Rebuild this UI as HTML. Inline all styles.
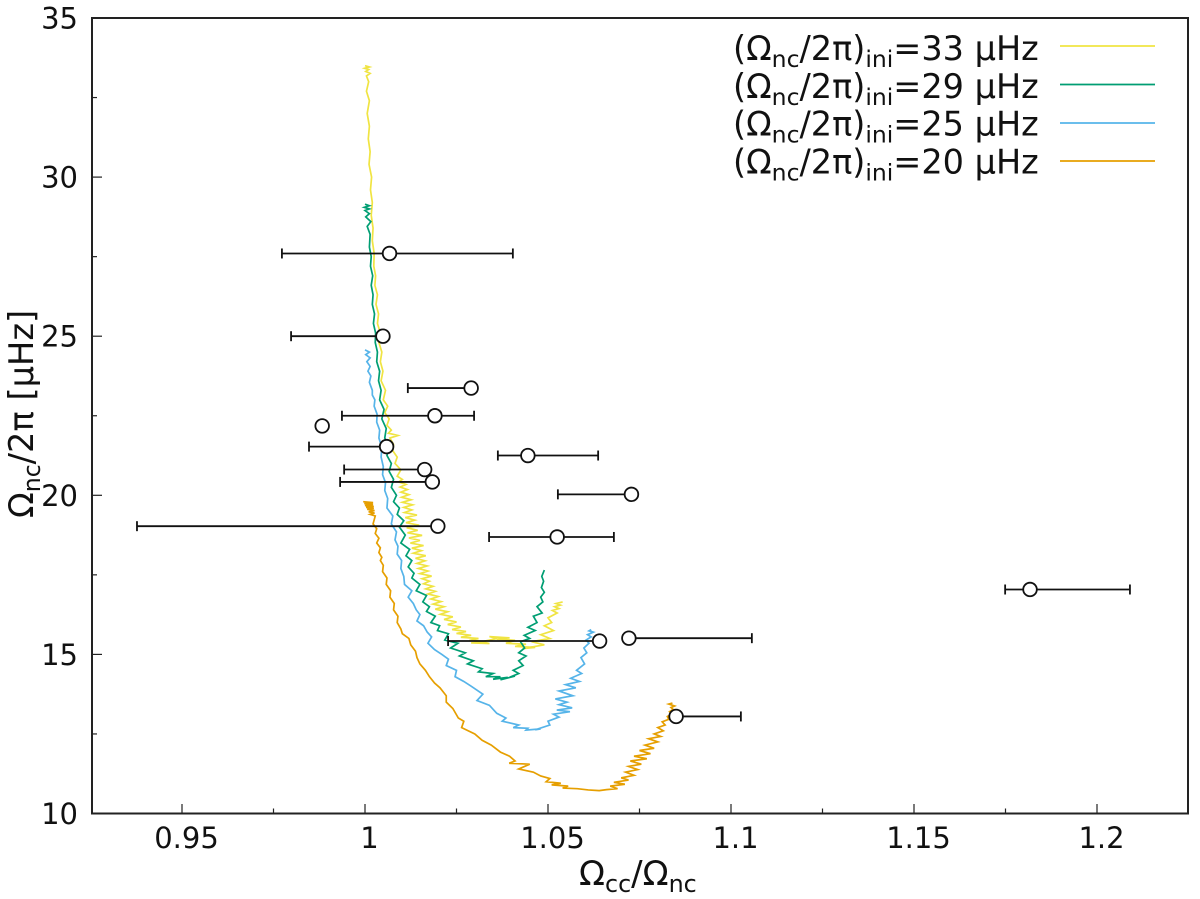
<!DOCTYPE html>
<html lang="en">
<head>
<meta charset="utf-8">
<title>Rotation chart</title>
<style>
html,body{margin:0;padding:0;background:#fff;}
svg{display:block;}
text{font-family:"DejaVu Sans","Liberation Sans",sans-serif;fill:#111;}
</style>
</head>
<body>
<svg id="chart" xmlns="http://www.w3.org/2000/svg" width="1200" height="899" viewBox="0 0 1200 899">
  <rect x="0" y="0" width="1200" height="899" fill="#fff"/>
  <g id="series"></g>
  <g id="observations"></g>
  <rect x="92" y="18" width="1096" height="795.5" fill="none" stroke="#222" stroke-width="2"/>
  <g id="axes"></g>

  <text x="579" y="885" font-size="34">Ω<tspan font-size="23.8" dy="7">cc</tspan><tspan dy="-7">/Ω</tspan><tspan font-size="23.8" dy="7">nc</tspan></text>
  <text transform="translate(33,518) rotate(-90)" font-size="33.7">Ω<tspan font-size="23.6" dy="7">nc</tspan><tspan dy="-7">/2π [μHz]</tspan></text>

  <g>
    <text x="733" y="60" font-size="33.5">(Ω<tspan font-size="23.5" dy="7">nc</tspan><tspan dy="-7">/2π)</tspan><tspan font-size="23.5" dy="7">ini</tspan><tspan dy="-7">=33 μHz</tspan></text>
    <line x1="1060" x2="1155" y1="46" y2="46" stroke="#f0e442" stroke-width="1.7"/>
    <text x="733" y="98" font-size="33.5">(Ω<tspan font-size="23.5" dy="7">nc</tspan><tspan dy="-7">/2π)</tspan><tspan font-size="23.5" dy="7">ini</tspan><tspan dy="-7">=29 μHz</tspan></text>
    <line x1="1060" x2="1155" y1="84.5" y2="84.5" stroke="#009e73" stroke-width="1.7"/>
    <text x="733" y="135.5" font-size="33.5">(Ω<tspan font-size="23.5" dy="7">nc</tspan><tspan dy="-7">/2π)</tspan><tspan font-size="23.5" dy="7">ini</tspan><tspan dy="-7">=25 μHz</tspan></text>
    <line x1="1060" x2="1155" y1="123" y2="123" stroke="#56b4e9" stroke-width="1.7"/>
    <text x="733" y="173.5" font-size="33.5">(Ω<tspan font-size="23.5" dy="7">nc</tspan><tspan dy="-7">/2π)</tspan><tspan font-size="23.5" dy="7">ini</tspan><tspan dy="-7">=20 μHz</tspan></text>
    <line x1="1060" x2="1155" y1="161" y2="161" stroke="#e69f00" stroke-width="1.7"/>
  </g>
</svg>
<script>
const xTickValues = [0.95, 1, 1.05, 1.1, 1.15, 1.2];
const xTickLabels = ["0.95", "1", "1.05", "1.1", "1.15", "1.2"];
const xMinorValues = [0.975, 1.025, 1.075, 1.125, 1.175];
const yTickValues = [10, 15, 20, 25, 30, 35];
const yTickLabels = ["10", "15", "20", "25", "30", "35"];
const yMinorValues = [12.5, 17.5, 22.5, 27.5, 32.5];

const yellowX = [
1.0000,1.0012,0.9999,1.0010,1.0002,1.0014,1.0004,1.0010,1.0004,1.0012,
1.0006,1.0012,1.0009,1.0014,1.0011,1.0018,1.0015,1.0020,1.0017,1.0022,
1.0020,1.0025,1.0024,1.0029,1.0027,1.0034,1.0030,1.0037,1.0034,1.0042,
1.0038,1.0046,1.0042,1.0049,1.0044,1.0056,1.0050,1.0062,1.0054,1.0066,
1.0060,1.0072,1.0064,1.0090,1.0068,1.0078,1.0076,1.0088,1.0082,1.0098,
1.0088,1.0102,1.0092,1.0112,1.0096,1.0116,1.0098,1.0120,1.0100,1.0126,
1.0102,1.0130,1.0106,1.0128,1.0108,1.0142,1.0110,1.0136,1.0112,1.0148,
1.0114,1.0144,1.0116,1.0156,1.0120,1.0150,1.0124,1.0160,1.0128,1.0154,
1.0132,1.0166,1.0138,1.0164,1.0142,1.0170,1.0146,1.0172,1.0150,1.0182,
1.0156,1.0176,1.0160,1.0186,1.0166,1.0192,1.0172,1.0200,1.0180,1.0208,
1.0186,1.0216,1.0192,1.0226,1.0206,1.0240,1.0216,1.0250,1.0226,1.0262,
1.0238,1.0276,1.0250,1.0290,1.0262,1.0310,1.0285,1.0330,1.0290,1.0340,
1.0320,1.0360,1.0340,1.0395,1.0360,1.0410,1.0385,1.0440,1.0410,1.0465,
1.0430,1.0490,1.0455,1.0505,1.0480,1.0515,1.0490,1.0510,1.0500,1.0525,
1.0512,1.0530,1.0518,1.0534,1.0522,1.0540];
const yellowY = [
33.5,33.46,33.42,33.38,33.32,33.26,33.18,33.0,32.7,32.4,
32.0,31.6,31.2,30.8,30.4,30.0,29.6,29.2,28.8,28.4,
28.0,27.6,27.2,26.9,26.6,26.3,26.0,25.7,25.4,25.1,
24.8,24.5,24.2,23.9,23.6,23.3,23.0,22.8,22.6,22.4,
22.2,22.05,21.95,21.88,21.8,21.6,21.4,21.2,21.0,20.8,
20.6,20.5,20.42,20.34,20.26,20.18,20.1,20.02,19.94,19.86,
19.78,19.7,19.62,19.54,19.46,19.38,19.3,19.22,19.14,19.06,
18.98,18.9,18.82,18.74,18.66,18.58,18.5,18.42,18.34,18.26,
18.18,18.1,18.02,17.94,17.86,17.78,17.7,17.62,17.54,17.46,
17.38,17.3,17.22,17.14,17.06,16.98,16.9,16.82,16.74,16.66,
16.58,16.5,16.42,16.34,16.26,16.18,16.1,16.02,15.94,15.86,
15.78,15.72,15.66,15.6,15.54,15.5,15.44,15.4,15.36,15.34,
15.4,15.5,15.56,15.52,15.48,15.44,15.35,15.32,15.25,15.22,
15.18,15.3,15.4,15.5,15.62,15.75,15.9,16.0,16.15,16.3,
16.38,16.44,16.5,16.55,16.6,16.65];

const greenX = [
1.0000,1.0012,0.9998,1.0012,1.0000,1.0012,1.0002,1.0016,1.0006,1.0014,
1.0012,1.0017,1.0015,1.0021,1.0017,1.0022,1.0020,1.0026,1.0023,1.0029,
1.0028,1.0034,1.0032,1.0040,1.0037,1.0044,1.0040,1.0052,1.0046,1.0058,
1.0054,1.0066,1.0060,1.0072,1.0066,1.0078,1.0072,1.0086,1.0078,1.0094,
1.0088,1.0106,1.0094,1.0110,1.0098,1.0122,1.0112,1.0128,1.0118,1.0134,
1.0128,1.0150,1.0140,1.0168,1.0158,1.0176,1.0168,1.0192,1.0180,1.0204,
1.0198,1.0228,1.0218,1.0254,1.0234,1.0274,1.0258,1.0296,1.0280,1.0320,
1.0310,1.0350,1.0330,1.0370,1.0350,1.0390,1.0370,1.0410,1.0395,1.0420,
1.0405,1.0432,1.0420,1.0440,1.0420,1.0436,1.0425,1.0450,1.0435,1.0465,
1.0445,1.0470,1.0460,1.0484,1.0470,1.0486,1.0480,1.0490,1.0482,1.0488,1.0483,1.0490];
const greenY = [
29.15,29.1,29.05,29.0,28.95,28.85,28.75,28.6,28.45,28.2,
27.8,27.5,27.2,26.9,26.6,26.3,26.0,25.7,25.4,25.1,
24.8,24.5,24.2,23.9,23.6,23.3,23.0,22.7,22.4,22.1,
21.8,21.5,21.25,21.0,20.75,20.5,20.25,20.0,19.8,19.6,
19.4,19.2,19.0,18.75,18.5,18.3,18.1,17.95,17.75,17.55,
17.4,17.2,17.0,16.85,16.65,16.5,16.35,16.2,16.0,15.9,
15.75,15.65,15.45,15.35,15.2,15.05,14.95,14.8,14.7,14.55,
14.45,14.4,14.3,14.3,14.22,14.28,14.2,14.32,14.28,14.4,
14.5,14.65,14.8,14.95,15.05,15.2,15.4,15.5,15.6,15.75,
15.85,16.0,16.2,16.3,16.5,16.65,16.8,16.95,17.1,17.3,17.45,17.65];

const blueX = [
1.0000,1.0012,1.0002,1.0014,1.0005,1.0014,1.0008,1.0016,1.0012,1.0020,
1.0020,1.0027,1.0025,1.0033,1.0032,1.0040,1.0038,1.0046,1.0044,1.0050,
1.0048,1.0056,1.0054,1.0062,1.0060,1.0076,1.0072,1.0086,1.0082,1.0090,
1.0088,1.0100,1.0098,1.0106,1.0108,1.0128,1.0118,1.0132,1.0140,1.0150,
1.0142,1.0160,1.0170,1.0182,1.0172,1.0190,1.0210,1.0228,1.0222,1.0250,
1.0246,1.0270,1.0290,1.0322,1.0306,1.0340,1.0360,1.0385,1.0375,1.0420,
1.0405,1.0445,1.0440,1.0480,1.0465,1.0505,1.0500,1.0530,1.0515,1.0560,
1.0524,1.0566,1.0530,1.0552,1.0520,1.0568,1.0530,1.0576,1.0548,1.0586,
1.0562,1.0592,1.0578,1.0600,1.0590,1.0606,1.0598,1.0612,1.0604,1.0618,1.0608,1.0624,1.0612,1.0618];
const blueY = [
24.57,24.5,24.42,24.32,24.2,24.05,23.9,23.75,23.55,23.3,
23.15,23.0,22.8,22.55,22.3,22.05,21.8,21.5,21.2,20.9,
20.65,20.4,20.15,19.9,19.6,19.35,19.1,18.85,18.6,18.4,
18.15,17.95,17.7,17.45,17.2,17.0,16.8,16.6,16.4,16.25,
16.05,15.9,15.7,15.55,15.35,15.15,15.0,14.85,14.65,14.5,
14.3,14.15,14.0,13.75,13.55,13.4,13.15,13.0,12.9,12.78,
12.7,12.68,12.62,12.66,12.63,12.78,12.9,13.03,13.12,13.2,
13.25,13.32,13.42,13.5,13.6,13.7,13.85,13.95,14.05,14.15,
14.25,14.4,14.5,14.7,14.9,15.05,15.2,15.35,15.45,15.55,15.62,15.7,15.74,15.78];

const orangeX = [
0.9995,1.0022,0.9998,1.0022,1.0000,1.0024,1.0003,1.0024,1.0006,1.0026,
1.0010,1.0026,1.0014,1.0028,1.0022,1.0032,1.0028,1.0038,1.0032,1.0042,
1.0038,1.0046,1.0042,1.0050,1.0048,1.0060,1.0058,1.0070,1.0068,1.0080,
1.0078,1.0090,1.0088,1.0098,1.0102,1.0120,1.0125,1.0138,1.0142,1.0150,
1.0165,1.0176,1.0190,1.0205,1.0222,1.0222,1.0240,1.0255,1.0270,1.0264,
1.0300,1.0320,1.0345,1.0370,1.0395,1.0410,1.0394,1.0450,1.0420,1.0460,
1.0480,1.0505,1.0495,1.0535,1.0510,1.0555,1.0540,1.0580,1.0610,1.0640,
1.0660,1.0690,1.0670,1.0710,1.0680,1.0720,1.0700,1.0735,1.0712,1.0745,
1.0720,1.0755,1.0725,1.0770,1.0735,1.0780,1.0750,1.0790,1.0765,1.0800,
1.0775,1.0808,1.0790,1.0815,1.0800,1.0820,1.0812,1.0830,1.0826,1.0838,
1.0832,1.0842,1.0836,1.0846,1.0830,1.0840];
const orangeY = [
19.8,19.77,19.74,19.71,19.68,19.65,19.62,19.59,19.56,19.52,
19.48,19.44,19.4,19.35,19.1,18.95,18.8,18.65,18.5,18.35,
18.2,18.05,17.95,17.8,17.6,17.4,17.2,17.0,16.8,16.6,
16.4,16.2,16.0,15.8,15.65,15.5,15.3,15.1,14.9,14.7,
14.5,14.3,14.1,13.95,13.7,13.5,13.3,13.0,12.9,12.7,
12.5,12.3,12.15,11.93,11.8,11.65,11.58,11.55,11.4,11.3,
11.18,11.1,11.0,10.95,10.9,10.86,10.8,10.78,10.74,10.72,
10.75,10.78,10.86,10.92,10.98,11.05,11.12,11.2,11.3,11.38,
11.48,11.55,11.65,11.72,11.8,11.88,11.98,12.05,12.15,12.25,
12.35,12.42,12.5,12.6,12.7,12.78,12.88,12.96,13.05,13.12,
13.2,13.27,13.33,13.38,13.44,13.47];

const obsX =   [1.0067,1.0049,1.0290,1.0191,0.9883,1.0059,1.0445,1.0163,1.0184,1.0728,1.0199,1.0525,1.1817,1.0641,1.0721,1.0850];
const obsY =   [27.6,25.0,23.37,22.5,22.18,21.53,21.25,20.81,20.42,20.03,19.03,18.69,17.04,15.42,15.51,13.05];
const obsXLo = [0.9773,0.9798,1.0117,0.9937,0.9883,0.9847,1.0363,0.9943,0.9932,1.0527,0.9377,1.0339,1.1749,1.0227,1.0721,1.0850];
const obsXHi = [1.0404,1.0049,1.0290,1.0298,0.9883,1.0059,1.0637,1.0163,1.0184,1.0728,1.0199,1.0680,1.2090,1.0641,1.1057,1.1027];

const SVGNS = "http://www.w3.org/2000/svg";
function xScale(v){ return 365 + (v - 1) * 3660; }
function yScale(v){ return 813.5 - (v - 10) * 31.82; }
function make(tag, attrs, parent){
  const el = document.createElementNS(SVGNS, tag);
  for (const k in attrs) el.setAttribute(k, attrs[k]);
  parent.appendChild(el);
  return el;
}
const seriesGroup = document.getElementById('series');
const obsGroup = document.getElementById('observations');
const axesGroup = document.getElementById('axes');

function drawSeries(xs, ys, color, name){
  const n = Math.min(xs.length, ys.length);
  let d = '';
  for (let i = 0; i < n; i++){
    d += (i ? 'L' : 'M') + xScale(xs[i]).toFixed(2) + ' ' + yScale(ys[i]).toFixed(2);
  }
  const p = make('path', {d: d, fill: 'none', stroke: color, 'stroke-width': 1.7, 'stroke-linejoin': 'miter'}, seriesGroup);
  
  
}
drawSeries(yellowX, yellowY, '#f0e442', 'series-33-muhz');
drawSeries(greenX, greenY, '#009e73', 'series-29-muhz');
drawSeries(blueX, blueY, '#56b4e9', 'series-25-muhz');
drawSeries(orangeX, orangeY, '#e69f00', 'series-20-muhz');

obsX.forEach(function(v, i){
  const cy = yScale(obsY[i]);
  const lo = xScale(obsXLo[i]);
  const hi = xScale(obsXHi[i]);
  const cx = xScale(v);
  if (hi - lo > 0.5){
    const bar = make('line', {x1: lo, x2: hi, y1: cy, y2: cy, stroke: '#111', 'stroke-width': 1.8}, obsGroup);
    
    
    if (lo < cx - 0.5){
      const capL = make('line', {x1: lo, x2: lo, y1: cy - 5, y2: cy + 5, stroke: '#111', 'stroke-width': 1.8}, obsGroup);
      
      
    }
    if (hi > cx + 0.5){
      const capH = make('line', {x1: hi, x2: hi, y1: cy - 5, y2: cy + 5, stroke: '#111', 'stroke-width': 1.8}, obsGroup);
      
      
    }
  }
});
obsX.forEach(function(v, i){
  const c = make('circle', {cx: xScale(v), cy: yScale(obsY[i]), r: 6.8, fill: '#fff', stroke: '#111', 'stroke-width': 1.8}, obsGroup);
  
  
});

xTickValues.forEach(function(v, i){
  const x = xScale(v);
  const t = make('line', {x1: x, x2: x, y1: 813.5, y2: 804, stroke: '#222', 'stroke-width': 1.2}, axesGroup);
  
  
  const label = make('text', {x: x + 4.5, y: 848, 'font-size': 29, 'text-anchor': 'middle'}, axesGroup);
  label.textContent = xTickLabels[i];
  
  
});
xMinorValues.forEach(function(v){
  const x = xScale(v);
  const t = make('line', {x1: x, x2: x, y1: 813.5, y2: 808.5, stroke: '#222', 'stroke-width': 1.2}, axesGroup);
  
  
});
yTickValues.forEach(function(v, i){
  const y = yScale(v);
  const t = make('line', {x1: 92, x2: 102, y1: y, y2: y, stroke: '#222', 'stroke-width': 1.2}, axesGroup);
  
  
  const label = make('text', {x: 78, y: y + 10.5, 'font-size': 29, 'text-anchor': 'end'}, axesGroup);
  label.textContent = yTickLabels[i];
  
  
});
yMinorValues.forEach(function(v){
  const y = yScale(v);
  const t = make('line', {x1: 92, x2: 97, y1: y, y2: y, stroke: '#222', 'stroke-width': 1.2}, axesGroup);
  
  
});
</script>
</body>
</html>
